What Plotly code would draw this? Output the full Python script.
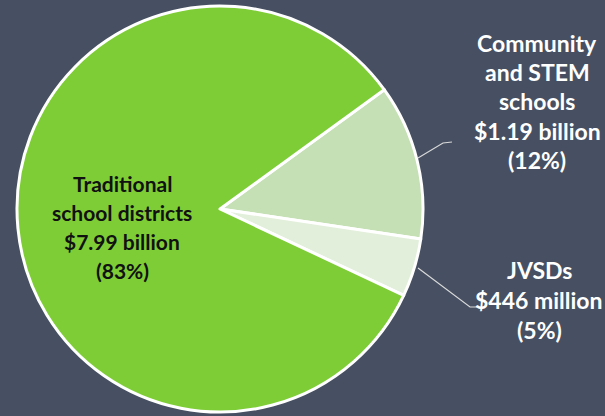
import plotly.graph_objects as go

categories = ["Community and STEM schools", "JVSDs", "Traditional school districts"]
values = [1.19, 0.446, 7.99]
colors = ["#c5e0b4", "#e2efda", "#7ecd36"]

label_lines = {
    "Traditional school districts": ["Traditional", "school districts", "$7.99 billion", "(83%)"],
    "Community and STEM schools": ["Community", "and STEM", "schools", "$1.19 billion", "(12%)"],
    "JVSDs": ["JVSDs", "$446 million", "(5%)"],
}

W, H = 605, 416
BG = "#465062"

fig = go.Figure(go.Pie(
    labels=categories, values=values, sort=False, direction="clockwise",
    rotation=54, marker=dict(colors=colors, line=dict(color="white", width=3)),
    textinfo="none", hoverinfo="label+value", showlegend=False,
    domain=dict(x=[17/W, 423/W], y=[(H-412)/H, (H-6)/H]),
))

def px(x, y):
    return x / W, 1 - y / H

anns = []
def add_lines(lines, cx, y0, dy, color, size):
    for i, t in enumerate(lines):
        x, y = px(cx, y0 + i * dy)
        anns.append(dict(x=x, y=y, xref="paper", yref="paper", text="<b>" + t + "</b>",
                         showarrow=False, xanchor="center", yanchor="middle",
                         font=dict(family="Lato", size=size, color=color)))

add_lines(label_lines["Traditional school districts"], 122, 183, 29.3, "#111111", 21)
add_lines(label_lines["Community and STEM schools"], 537, 43, 29.2, "#ffffff", 23)
add_lines(label_lines["JVSDs"], 539, 270, 30, "#ffffff", 23)
fig.update_layout(annotations=anns)

line_style = dict(color="#d9d9d9", width=1.2)
shapes = []
for pts in ([(418, 158), (443, 143), (452, 142)], [(418, 268), (470, 307), (477, 307)]):
    path = "M " + " L ".join(f"{px(x, y)[0]},{px(x, y)[1]}" for x, y in pts)
    shapes.append(dict(type="path", path=path, xref="paper", yref="paper", line=line_style))
fig.update_layout(shapes=shapes)

fig.update_layout(width=W, height=H, margin=dict(l=0, r=0, t=0, b=0),
                  paper_bgcolor=BG, plot_bgcolor=BG)
fig.write_html("out.html", config={"displayModeBar": False},
               post_script="document.body.style.margin='0px';document.body.style.background='%s';" % BG)
